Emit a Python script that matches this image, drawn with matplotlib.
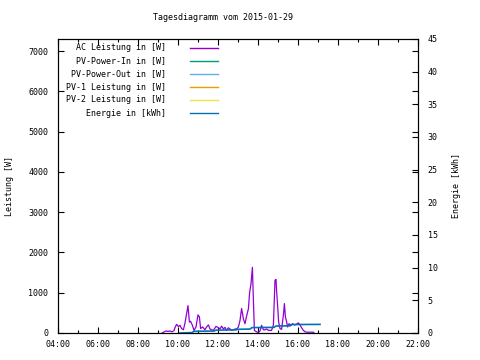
import matplotlib
matplotlib.use("Agg")
import matplotlib.pyplot as plt
from matplotlib.lines import Line2D

plt.rcParams['font.family'] = ['DejaVu Sans Mono']
plt.rcParams['font.size'] = 6

# AC Leistung [W] ueber den Tag (Stunden)
ac_hours = [9.2, 9.3, 9.4, 9.5, 9.6, 9.7, 9.8, 9.85, 9.93, 10.02, 10.1, 10.18, 10.27,
            10.35, 10.43, 10.5, 10.57, 10.63, 10.72, 10.8, 10.9, 11.0, 11.07, 11.13,
            11.23, 11.35, 11.43, 11.52, 11.6, 11.68, 11.77, 11.9, 12.02, 12.1, 12.18,
            12.27, 12.35, 12.43, 12.52, 12.6, 12.68, 12.77, 12.85, 12.93, 13.02, 13.1,
            13.18, 13.27, 13.35, 13.43, 13.52, 13.58, 13.65, 13.72, 13.77, 13.82, 13.93,
            14.02, 14.1, 14.18, 14.27, 14.35, 14.43, 14.52, 14.6, 14.68, 14.77, 14.85,
            14.9, 14.93, 14.98, 15.03, 15.1, 15.18, 15.27, 15.32, 15.37, 15.43, 15.48,
            15.55, 15.63, 15.73, 15.85, 16.02, 16.1, 16.18, 16.27, 16.35, 16.43, 16.6,
            16.77, 16.8]
ac_watt = [0, 25, 50, 40, 50, 30, 60, 135, 215, 160, 190, 110, 80,
           250, 480, 680, 270, 290, 190, 65, 150, 450, 400, 110,
           150, 80, 150, 200, 100, 80, 65, 165, 130, 100, 170,
           100, 140, 65, 130, 100, 65, 80, 100, 100, 150, 310,
           610, 350, 230, 420, 600, 1000, 1220, 1630, 810, 65, 30,
           10, 50, 190, 80, 80, 100, 65, 65, 65, 200, 1310,
           1330, 1040, 690, 280, 110, 90, 445, 730, 400, 280, 150,
           230, 200, 230, 200, 250, 200, 130, 65, 30, 20, 20,
           20, 0]

# Energie [kWh]
en_hours = [10.1, 10.7, 10.8, 11.8, 11.9, 12.9, 13.0, 13.6, 13.7, 14.8, 14.9,
            15.6, 15.7, 17.1]
en_kwh = [0.0, 0.06, 0.26, 0.3, 0.44, 0.48, 0.57, 0.6, 0.83, 0.86, 1.07,
          1.1, 1.29, 1.32]

# keine Daten fuer diese Reihen an diesem Tag
pv_in = []
pv_out = []
pv1 = []
pv2 = []

series_names = ['AC Leistung in [W]', 'PV-Power-In in [W]', 'PV-Power-Out in [W]',
                'PV-1 Leistung in [W]', 'PV-2 Leistung in [W]', 'Energie in [kWh]']
series_colors = ['#9400d3', '#009e73', '#56b4e9', '#e69f00', '#f0e442', '#0072b2']

xtick_pos = [4, 6, 8, 10, 12, 14, 16, 18, 20, 22]
xtick_labels = ['04:00', '06:00', '08:00', '10:00', '12:00', '14:00',
                '16:00', '18:00', '20:00', '22:00']

W, H = 480, 360
fig = plt.figure(figsize=(4.8, 3.6), dpi=100)
ax = fig.add_axes([58 / W, 1 - 333 / H, 360 / W, 294 / H])
ax2 = ax.twinx()

lw = 0.9
ax.plot(ac_hours, ac_watt, color=series_colors[0], lw=lw)
ax.plot(pv_in, pv_in, color=series_colors[1], lw=lw)
ax.plot(pv_out, pv_out, color=series_colors[2], lw=lw)
ax.plot(pv1, pv1, color=series_colors[3], lw=lw)
ax.plot(pv2, pv2, color=series_colors[4], lw=lw)
ax2.plot(en_hours, en_kwh, color=series_colors[5], lw=1.2)

ax.set_xlim(4, 22)
ax.set_ylim(0, 7300)
ax2.set_ylim(0, 45)

ax.set_xticks(xtick_pos)
ax.set_xticklabels(xtick_labels)
ax.set_xticks(range(5, 22, 2), minor=True)
ax.set_yticks(range(0, 7001, 1000))
ax2.set_yticks(range(0, 46, 5))

ax.tick_params(axis='x', which='both', direction='in', top=True, pad=5)
ax.tick_params(axis='x', which='major', length=4, width=0.8)
ax.tick_params(axis='x', which='minor', length=2.5, width=0.8)
ax.tick_params(axis='y', direction='in', right=True, length=4, width=0.8, pad=7)
ax2.tick_params(axis='y', direction='in', length=4, width=0.8, pad=7)

for a in (ax, ax2):
    for s in a.spines.values():
        s.set_linewidth(0.8)

ax.set_ylabel('Leistung [W]', labelpad=10)
ax2.set_ylabel('Energie [kWh]', labelpad=10, rotation=90)

fig.text(223 / W, 1 - 18 / H, 'Tagesdiagramm vom 2015-01-29',
         ha='center', va='center', fontsize=6)

# Legende im gnuplot-Stil: Text rechtsbuendig, Linie rechts daneben
row_y = [48, 61, 74, 87, 100, 113]
for name, col, y in zip(series_names, series_colors, row_y):
    fig.text(166 / W, 1 - y / H, name, ha='right', va='center', fontsize=6)
    fig.add_artist(Line2D([190 / W, 218 / W], [1 - y / H, 1 - y / H],
                          color=col, lw=1, transform=fig.transFigure))

fig.savefig('out.png', dpi=100)
